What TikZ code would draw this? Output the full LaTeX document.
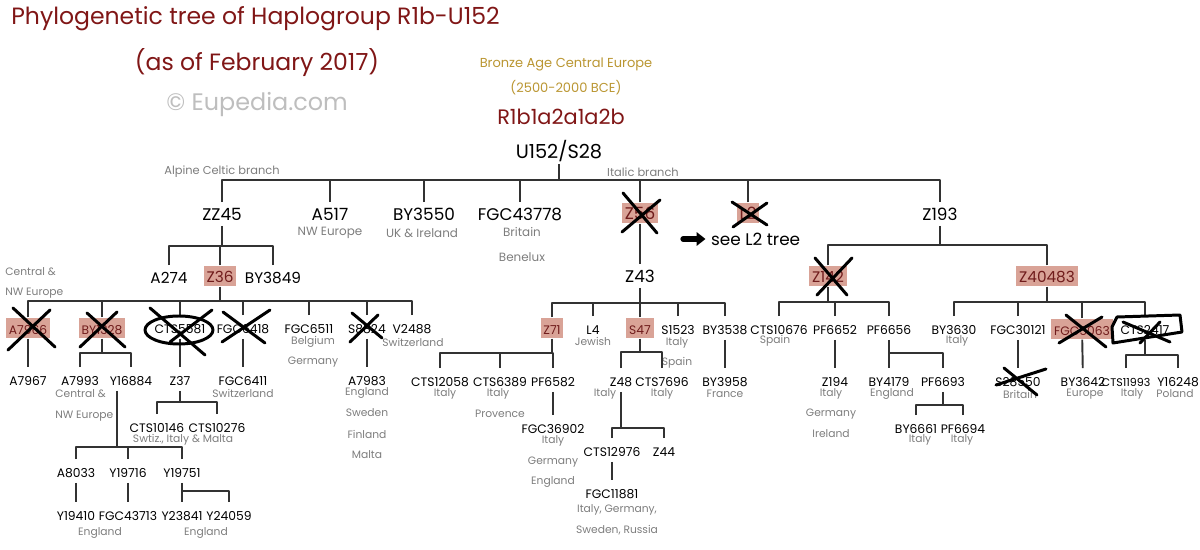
\documentclass[tikz,border=0pt]{standalone}
\usepackage{fontspec}
\setmainfont{Poppins}
\usetikzlibrary{arrows.meta}
\definecolor{titlered}{RGB}{128,22,22}
\definecolor{hlfill}{RGB}{217,163,151}
\definecolor{hltext}{RGB}{112,28,28}
\definecolor{notegray}{RGB}{125,125,125}
\definecolor{linegray}{RGB}{50,50,50}
\definecolor{bronze}{RGB}{186,150,50}
\definecolor{markgray}{RGB}{190,190,190}

\begin{document}
\begin{tikzpicture}[line cap=round,line join=round,x=0.02cm,y=-0.02cm,
  edge/.style={draw=linegray,line width=1.1pt,line cap=butt},
  lbl/.style={inner xsep=1pt,inner ysep=3pt,text height=0.7em,text depth=0pt},
  big/.style={lbl,font=\fontsize{9.6}{11}\selectfont},
  mid/.style={lbl,font=\fontsize{8.7}{10}\selectfont},
  sm/.style={lbl,font=\fontsize{7}{8.5}\selectfont},
  note/.style={inner sep=0pt,text=notegray,font=\fontsize{6.1}{7}\selectfont},
  bignote/.style={inner sep=0pt,text=notegray,font=\fontsize{6.8}{8}\selectfont},
  tiny/.style={inner sep=0pt,font=\fontsize{6.5}{7.5}\selectfont},
  hl/.style={fill=hlfill,text=hltext,inner xsep=1.6pt,inner ysep=2.3pt},
  scratch/.style={draw=black,line width=1.7pt,line cap=round,line join=round},
  fatarrow/.style={draw=black,line width=3pt,-{Triangle[length=5pt,width=7.5pt]}}]
\useasboundingbox (0,0) rectangle (1200,550);

% heading
\node[anchor=west,inner sep=0pt,text=titlered,font=\fontsize{13.4}{15}\selectfont] (title) at (11,19) {Phylogenetic tree of Haplogroup R1b-U152};
\node[inner sep=0pt,text=titlered,font=\fontsize{13.4}{15}\selectfont] (asof) at (257,63) {(as of February 2017)};
\node[inner sep=0pt,text=markgray,font=\fontsize{13.6}{15}\selectfont] (eupedia) at (257,105) {© Eupedia.com};
\node[inner sep=0pt,text=bronze,font=\fontsize{7.4}{8.5}\selectfont] (bronze) at (566,64) {Bronze Age Central Europe};
\node[inner sep=0pt,text=bronze,font=\fontsize{7.4}{8.5}\selectfont] (bce) at (566,88) {(2500-2000 BCE)};
\node[inner sep=0pt,text=titlered,font=\fontsize{11.9}{13}\selectfont] (r1b) at (561,117) {R1b1a2a1a2b};
\node[lbl,font=\fontsize{11}{13}\selectfont] (u152) at (559,152) {U152/S28};
\node[tiny,text=notegray] (alpine) at (222,172) {Alpine Celtic branch};
\node[tiny,text=notegray] (italic) at (643,172) {Italic branch};

% first level
\node[big] (zz45) at (222,214) {ZZ45};
\node[big] (a517) at (330,214) {A517};
\node[big] (by3550) at (424,214) {BY3550};
\node[big] (fgc43778) at (520,214) {FGC43778};
\node[big,hl] (z56) at (640,213) {Z56};
\node[big,hl] (l2) at (748,213) {L2};
\node[big] (z193) at (940,214) {Z193};
\node[bignote] at (330,233) {NW Europe};
\node[bignote] at (422,233) {UK \& Ireland};
\node[bignote] at (522,232) {Britain};
\node[bignote] at (522,257) {Benelux};
\coordinate (arrowtail) at (683,239);
\node[big,anchor=west] (seel2) at (709,239) {see L2 tree};
\draw[fatarrow,shorten >=2pt] (arrowtail) -- (seel2.west);

% second level
\node[mid] (a274) at (169,277) {A274};
\node[mid,hl] (z36) at (220,276) {Z36};
\node[mid] (by3849) at (273,277) {BY3849};
\node[big] (z43) at (640,276) {Z43};
\node[mid,hl] (z142) at (828,276) {Z142};
\node[mid,hl] (z40483) at (1047,276) {Z40483};
\node[note,anchor=west] at (5,272) {Central \&};
\node[note,anchor=west] at (5,293) {NW Europe};

% third level
\node[sm,hl] (a7966) at (28,328) {A7966};
\node[sm,hl] (by1328) at (102,328) {BY1328};
\node[sm] (cts5581) at (180,327) {CTS5581};
\node[sm] (fgc6418) at (243,327) {FGC6418};
\node[sm] (fgc6511) at (309,327) {FGC6511};
\node[sm] (s8824) at (367,327) {S8824};
\node[sm] (v2488) at (412,327) {V2488};
\node[note] at (313,342) {Belgium};
\node[note] at (313,362) {Germany};
\node[note] at (413,342) {Switzerland};
\node[sm,hl] (z71) at (552,328) {Z71};
\node[sm] (l4) at (593,328) {L4};
\node[sm,hl] (s47) at (640,328) {S47};
\node[sm] (s1523) at (678,328) {S1523};
\node[sm] (by3538) at (725,328) {BY3538};
\node[note] at (593,341) {Jewish};
\node[note] at (677,343) {Italy};
\node[note] at (677,363) {Spain};
\node[sm] (cts10676) at (779,328) {CTS10676};
\node[sm] (pf6652) at (835,328) {PF6652};
\node[sm] (pf6656) at (889,328) {PF6656};
\node[sm] (by3630) at (954,328) {BY3630};
\node[sm] (fgc30121) at (1018,328) {FGC30121};
\node[sm,hl] (fgc5063) at (1082,329) {FGC5063};
\node[sm] (cts2417) at (1145,328) {CTS2417};
\node[note] at (775,341) {Spain};
\node[note] at (957,341) {Italy};

% fourth level
\node[sm] (a7967) at (28,379) {A7967};
\node[sm] (a7993) at (80,379) {A7993};
\node[sm] (y16884) at (131,379) {Y16884};
\node[sm] (z37) at (180,379) {Z37};
\node[sm] (fgc6411) at (243,379) {FGC6411};
\node[sm] (a7983) at (367,379) {A7983};
\node[note,anchor=west] at (55,394) {Central \&};
\node[note,anchor=west] at (55,416) {NW Europe};
\node[note] at (243,393) {Switzerland};
\node[note] at (367,393) {England};
\node[note] at (367,413) {Sweden};
\node[note] at (367,434) {Finland};
\node[note] at (367,455) {Malta};
\node[sm] (cts12058) at (440,380) {CTS12058};
\node[sm] (cts6389) at (500,380) {CTS6389};
\node[sm] (pf6582) at (553,380) {PF6582};
\node[note] at (445,394) {Italy};
\node[note] at (498,394) {Italy};
\node[note] at (500,414) {Provence};
\node[sm] (z48) at (621,380) {Z48};
\node[sm] (cts7696) at (662,380) {CTS7696};
\node[note] at (605,394) {Italy};
\node[note] at (662,394) {Italy};
\node[sm] (by3958) at (725,380) {BY3958};
\node[note] at (725,394) {France};
\node[sm] (z194) at (835,380) {Z194};
\node[sm] (by4179) at (889,380) {BY4179};
\node[sm] (pf6693) at (943,380) {PF6693};
\node[sm] (s28550) at (1018,380) {S28550};
\node[sm] (by3642) at (1083,380) {BY3642};
\node[lbl,font=\fontsize{6.3}{7.5}\selectfont] (cts11993) at (1126,380) {CTS11993};
\node[sm] (y16248) at (1178,380) {Y16248};
\node[note] at (831,394) {Italy};
\node[note] at (831,414) {Germany};
\node[note] at (831,434) {Ireland};
\node[note] at (892,394) {England};
\node[note] at (1020,394) {Britain};
\node[note] at (1085,394) {Europe};
\node[note] at (1132,394) {Italy};
\node[note] at (1175,394) {Poland};

% lower levels
\node[sm] (cts10146) at (157,426) {CTS10146};
\node[sm] (cts10276) at (217,426) {CTS10276};
\node[note] at (183,440) {Swtiz., Italy \& Malta};
\node[sm] (a8033) at (76,471) {A8033};
\node[sm] (y19716) at (128,471) {Y19716};
\node[sm] (y19751) at (182,471) {Y19751};
\node[sm] (y19410) at (76,514) {Y19410};
\node[sm] (fgc43713) at (128,514) {FGC43713};
\node[sm] (y23841) at (182,514) {Y23841};
\node[sm] (y24059) at (229,514) {Y24059};
\node[note] at (100,533) {England};
\node[note] at (206,533) {England};
\node[sm] (fgc36902) at (553,427) {FGC36902};
\node[note] at (553,441) {Italy};
\node[note] at (553,462) {Germany};
\node[note] at (553,482) {England};
\node[sm] (cts12976) at (612,450) {CTS12976};
\node[sm] (z44) at (664,450) {Z44};
\node[sm] (fgc11881) at (612,492) {FGC11881};
\node[note] at (617,510) {Italy, Germany,};
\node[note] at (617,530) {Sweden, Russia};
\node[sm] (by6661) at (916,427) {BY6661};
\node[sm] (pf6694) at (963,427) {PF6694};
\node[note] at (920,440) {Italy};
\node[note] at (962,440) {Italy};

% forks
\coordinate (fU152) at (559,180);
\coordinate (fZZ45) at (222,246);
\coordinate (fZ36) at (220,301);
\coordinate (fZ43) at (640,303);
\coordinate (fZ193) at (940,245);
\coordinate (fZ142) at (828,302);
\coordinate (fZ40483) at (1047,302);
\coordinate (fBY1328) at (102,353);
\coordinate (fZ37) at (180,402);
\coordinate (fY16884) at (117,447);
\coordinate (fY19751) at (182,491);
\coordinate (fZ71) at (552,353);
\coordinate (fS47) at (640,352);
\coordinate (fZ48) at (621,428);
\coordinate (fPF6656) at (889,353);
\coordinate (fPF6693) at (943,405);
\coordinate (fCTS2417) at (1145,355);

\draw[edge] (u152) -- (fU152) (zz45) |- (fU152) (a517) |- (fU152) (by3550) |- (fU152)
  (fgc43778) |- (fU152) (z56) |- (fU152) (l2) |- (fU152) (z193) |- (fU152);
\draw[edge] (zz45) -- (fZZ45) (a274) |- (fZZ45) (z36) |- (fZZ45) (by3849) |- (fZZ45);
\draw[edge] (z36) -- (fZ36) (a7966) |- (fZ36) (by1328) |- (fZ36) (cts5581) |- (fZ36)
  (fgc6418) |- (fZ36) (fgc6511) |- (fZ36) (s8824) |- (fZ36) (v2488) |- (fZ36);
\draw[edge] (z56) -- (z43);
\draw[edge] (z43) -- (fZ43) (z71) |- (fZ43) (l4) |- (fZ43) (s47) |- (fZ43) (s1523) |- (fZ43) (by3538) |- (fZ43);
\draw[edge] (z193) -- (fZ193) (z142) |- (fZ193) (z40483) |- (fZ193);
\draw[edge] (z142) -- (fZ142) (cts10676) |- (fZ142) (pf6652) |- (fZ142) (pf6656) |- (fZ142);
\draw[edge] (z40483) -- (fZ40483) (by3630) |- (fZ40483) (fgc30121) |- (fZ40483)
  (fgc5063) |- (fZ40483) (cts2417) |- (fZ40483);
\draw[edge] (a7966) -- (a7967);
\draw[edge] (by1328) -- (fBY1328) (a7993) |- (fBY1328) (y16884) |- (fBY1328);
\draw[edge] (cts5581) -- (z37);
\draw[edge] (fgc6418) -- (fgc6411);
\draw[edge] (s8824) -- (a7983);
\draw[edge] (z37) -- (fZ37) (cts10146) |- (fZ37) (cts10276) |- (fZ37);
\draw[edge] (y16884.south -| fY16884) -- (fY16884) (a8033) |- (fY16884) (y19716) |- (fY16884) (y19751) |- (fY16884);
\draw[edge] (a8033) -- (y19410);
\draw[edge] (y19716) -- (fgc43713);
\draw[edge] (y19751) -- (y23841) (y24059) |- (fY19751);
\draw[edge] (z71) -- (fZ71) (cts12058) |- (fZ71) (cts6389) |- (fZ71) (pf6582) |- (fZ71);
\draw[edge] (pf6582) -- (fgc36902);
\draw[edge] (s47) -- (fS47) (z48) |- (fS47) (cts7696) |- (fS47);
\draw[edge] (z48) -- (fZ48) (cts12976) |- (fZ48) (z44) |- (fZ48);
\draw[edge] (cts12976) -- (fgc11881);
\draw[edge] (by3538) -- (by3958);
\draw[edge] (pf6652) -- (z194);
\draw[edge] (pf6656) -- (by4179) (pf6693) |- (fPF6656);
\draw[edge] (pf6693) -- (fPF6693) (by6661) |- (fPF6693) (pf6694) |- (fPF6693);
\draw[edge] (fgc30121) -- (s28550);
\draw[edge] (fgc5063) -- (by3642);
\draw[edge] (cts2417) -- (fCTS2417) (cts11993) |- (fCTS2417) (y16248) |- (fCTS2417);

% scribbled crosses
\draw[scratch] ([shift={(-15,-20)}]a7966.center) -- ([shift={(27,19)}]a7966.center)
  ([shift={(22,-18)}]a7966.center) -- ([shift={(-20,22)}]a7966.center);
\draw[scratch] ([shift={(-15,-15)}]by1328.center) -- ([shift={(23,19)}]by1328.center)
  ([shift={(15,-16)}]by1328.center) -- ([shift={(-22,19)}]by1328.center);
\draw[scratch] ([shift={(-1,3)}]cts5581.center) ellipse [x radius=34, y radius=14];
\draw[scratch] ([shift={(-30,-19)}]cts5581.center) -- ([shift={(25,28)}]cts5581.center)
  ([shift={(32,-17)}]cts5581.center) -- ([shift={(-10,15)}]cts5581.center);
\draw[scratch] ([shift={(-20,-15)}]fgc6418.center) -- ([shift={(22,16)}]fgc6418.center)
  ([shift={(27,-17)}]fgc6418.center) -- ([shift={(-21,15)}]fgc6418.center);
\draw[scratch] ([shift={(-15,-14)}]s8824.center) -- ([shift={(15,11)}]s8824.center)
  ([shift={(11,-12)}]s8824.center) -- ([shift={(-17,15)}]s8824.center);
\draw[scratch] ([shift={(-17,-20)}]z56.center) -- ([shift={(17,20)}]z56.center)
  ([shift={(20,-13)}]z56.center) -- ([shift={(-18,19)}]z56.center);
\draw[scratch] ([shift={(-16,-11)}]l2.center) -- ([shift={(19,12)}]l2.center)
  ([shift={(19,-10)}]l2.center) -- ([shift={(-15,14)}]l2.center);
\draw[scratch] ([shift={(-13,-18)}]z142.center) -- ([shift={(19,19)}]z142.center)
  ([shift={(24,-18)}]z142.center) -- ([shift={(-11,19)}]z142.center);
\draw[scratch] ([shift={(-16,-14)}]fgc5063.center) -- ([shift={(24,18)}]fgc5063.center)
  ([shift={(20,-12)}]fgc5063.center) -- ([shift={(-23,14)}]fgc5063.center);
\draw[scratch] ([shift={(-33,-1)}]cts2417.center) -- ([shift={(-28,-11)}]cts2417.center)
  -- ([shift={(35,-13)}]cts2417.center) -- ([shift={(37,4)}]cts2417.center)
  -- ([shift={(-32,15)}]cts2417.center) -- cycle;
\draw[scratch] ([shift={(-22,-6)}]cts2417.center) -- ([shift={(25,14)}]cts2417.center)
  ([shift={(15,-6)}]cts2417.center) -- ([shift={(-5,15)}]cts2417.center);
\draw[scratch] ([shift={(-14,-12)}]s28550.center) -- ([shift={(19,15)}]s28550.center)
  ([shift={(28,-11)}]s28550.center) -- ([shift={(-22,5)}]s28550.center);
\end{tikzpicture}
\end{document}
